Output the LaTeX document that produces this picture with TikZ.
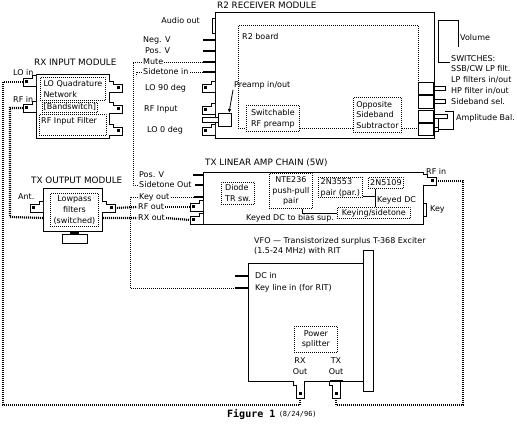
\documentclass[tikz,border=0pt]{standalone}
\usepackage{fontspec}
\setmainfont{DejaVu Sans}
\setmonofont{DejaVu Sans Mono}
\usetikzlibrary{arrows.meta,positioning}

\tikzset{
  module/.style={draw, line width=0.9pt},
  subbox/.style={draw, line width=0.8pt, dash pattern=on 0.8pt off 1.2pt, fill=white, align=left, inner sep=1pt},
  board/.style={draw, line width=0.8pt, dash pattern=on 0.8pt off 1.2pt},
  lbl/.style={inner sep=1pt, text height=6pt, text depth=1.5pt},
  titlelbl/.style={lbl, font=\fontsize{8.8}{10.8}\selectfont},
  pinline/.style={line width=2.2pt},
  ctlline/.style={line width=0.8pt, dash pattern=on 0.8pt off 1.2pt},
  rfline/.style={line width=2.2pt, dash pattern=on 1pt off 1pt},
  jackL/.pic={
    \draw[line width=0.8pt, fill=white] (0,-6) -- (-4,-6) -- (-4,-3) -- (-13,-3) -- (-13,5) -- (0,5);
    \fill (-11,-1) rectangle (-8,2);
    \coordinate (-tip) at (-13,1);
  },
  jackR/.pic={
    \draw[line width=0.8pt, fill=white] (0,-6) -- (4,-6) -- (4,-3) -- (13,-3) -- (13,5) -- (0,5);
    \fill (8,-1) rectangle (11,2);
    \coordinate (-tip) at (13,1);
  },
  jackD/.pic={
    \draw[line width=0.8pt, fill=white] (-7,0) -- (-7,4) -- (-4,4) -- (-4,17) -- (4,17) -- (4,0);
    \fill (-1,11) rectangle (2,14);
    \coordinate (-tip) at (0,17);
  },
}

\begin{document}
\begin{tikzpicture}[x=1pt, y=-1pt, every node/.style={font=\fontsize{8}{10.8}\selectfont, inner sep=1pt}]
  \useasboundingbox[fill=white] (0,0) rectangle (517,433);

  % R2 receiver module
  \node[module, anchor=north west, minimum width=219, minimum height=126] (r2) at (215,12) {};
  \node[titlelbl, anchor=west] (r2title) at (216,6) {R2 RECEIVER MODULE};
  \node[board, anchor=north west, minimum width=180, minimum height=103] (r2board) at (238,25) {};
  \node[lbl, anchor=west] (r2lbl) at (241,37) {R2 board};
  \node[subbox, anchor=north west, minimum width=53, minimum height=26] (swpre) at (246,105) {Switchable\\RF preamp};
  \node[subbox, anchor=north west, minimum width=48, minimum height=35] (oss) at (353,97) {Opposite\\Sideband\\Subtractor};
  \node[module, anchor=north west, minimum width=13, minimum height=13, inner sep=0pt, fill=white] (prebox) at (218,113) {};
  \draw[module, fill=white] (prebox.west) ++(0,-2.5) rectangle ++(-16,5);
  \node[lbl, anchor=west] (prelbl) at (233,85) {Preamp in/out};
  \draw[line width=0.8pt, -{Latex[length=4pt, width=3.5pt]}] (prelbl.south west) -- ([xshift=4pt]prebox.north);
  \node[module, anchor=north west, minimum width=3, minimum height=15, inner sep=0pt] (audio) at (212,18) {};
  \node[lbl, anchor=east] (audiol) at (201,21) {Audio out};
  \pic (j90) at (215,87) {jackL};
  \pic (jrfi) at (215,109) {jackL};
  \pic (j0) at (215,130) {jackL};

  % controls on the right of R2
  \draw[module] (458,47) -- (458,20) -- (438,20) -- (438,62) -- (450,62);
  \node[lbl, anchor=west] (voll) at (459,38) {Volume};
  \node[module, anchor=north west, minimum width=15, minimum height=12, inner sep=0pt, fill=white] (sw1) at (418,82) {};
  \node[module, anchor=north west, minimum width=15, minimum height=13, inner sep=0pt, fill=white] (sw2) at (418,95) {};
  \node[module, anchor=north west, minimum width=15, minimum height=12, inner sep=0pt, fill=white] (sw3) at (418,110) {};
  \node[module, anchor=north west, minimum width=15, minimum height=12, inner sep=0pt, fill=white] (sw4) at (418,123) {};
  \draw[module] (sw1.east) ++(0,-2) rectangle ++(12,4);
  \draw[module] (sw2.east) ++(0,-2) rectangle ++(12,4);
  \draw[module] (sw3.east) ++(0,-2) rectangle ++(14,4);
  \draw[module] (sw4.east) ++(0,-2) rectangle ++(5,4);
  \draw[module] (445,111) -- (453,111) -- (453,129) -- (438,129) -- (438,119);
  \node[anchor=north west, align=left] (swlist) at (450,54) {SWITCHES:\\SSB/CW LP filt.\\LP filters in/out\\HP filter in/out\\Sideband sel.};
  \node[lbl, anchor=west] (ampbal) at (455,118) {Amplitude Bal.};

  % RX input module
  \node[module, anchor=north west, minimum width=73, minimum height=64] (rxin) at (36,74) {};
  \node[titlelbl, anchor=west] (rxintitle) at (33,63) {RX INPUT MODULE};
  \node[subbox, anchor=north west, minimum width=65, minimum height=23] (loq) at (40,77) {LO Quadrature\\Network};
  \node[subbox, anchor=north west, minimum width=55, minimum height=10, inner sep=0pt] (bsw) at (42,102) {[Bandswitch]};
  \node[subbox, anchor=north west, minimum width=67, minimum height=21] (rff) at (39,114) {};
  \node[lbl, anchor=west] (rffl) at (40,121) {RF Input Filter};
  \node[lbl, anchor=west] (loinl) at (12,73) {LO in};
  \node[lbl, anchor=west] (rfinl) at (12,100) {RF in};
  \pic (jlo) at (36,81) {jackL};
  \pic (jrf) at (36,107) {jackL};
  \pic (jq1) at (109,87) {jackR};
  \pic (jq2) at (109,108) {jackR};
  \pic (jq3) at (109,130) {jackR};

  % TX linear amp chain
  \node[module, anchor=north west, minimum width=220, minimum height=52] (txa) at (203,172) {};
  \node[titlelbl, anchor=west] (txatitle) at (204,163) {TX LINEAR AMP CHAIN (5W)};
  \node[subbox, anchor=north west, minimum width=33, minimum height=22] (diode) at (221,182) {Diode\\TR sw.};
  \node[subbox, anchor=north west, minimum width=43, minimum height=35, align=center] (nte) at (269,173) {NTE236\\push-pull\\pair};
  \node[subbox, anchor=north west, minimum width=44, minimum height=20] (q3553) at (318,177) {2N3553\\pair (par.)};
  \node[subbox, anchor=north west, minimum width=35, minimum height=11, inner sep=0pt] (q5109) at (368,177) {2N5109};
  \node[subbox, anchor=north west, minimum width=73, minimum height=11, inner sep=0pt, align=center] (keying) at (337,207) {Keying/sidetone};
  \node[lbl, anchor=west] (keydc) at (376,200) {Keyed DC};
  \node[lbl, anchor=west] (biasl) at (245,218) {Keyed DC to bias sup.};
  \draw[line width=0.8pt] ([xshift=-10pt]nte.south east) |- (keying.west);
  \draw[line width=0.8pt] ([xshift=7pt]q5109.south west) coordinate (kd) -- (kd |- keying.north);
  \draw[line width=0.8pt] ([yshift=1.5pt]q3553.south east) -- ([yshift=1.5pt]q3553.south east -| kd);
  \pic (jrfin) at (423,180) {jackR};
  \node[lbl, anchor=west] (rfintx) at (425,172) {RF in};
  \draw[module] (423,203) -- (426,203) -- (426,216) -- (423,216);
  \node[lbl, anchor=west] (keyl) at (429,209) {Key};
  \pic (jrfo) at (203,206) {jackL};
  \pic (jrxo) at (203,219) {jackL};

  % TX output module
  \node[module, anchor=north west, minimum width=59, minimum height=43] (txo) at (43,188) {};
  \node[titlelbl, anchor=west] (txotitle) at (30,181) {TX OUTPUT MODULE};
  \node[subbox, anchor=north west, minimum width=48, minimum height=33, align=center] (lpf) at (50,193) {Lowpass\\filters\\(switched)};
  \node[lbl, anchor=west] (antl) at (17,197) {Ant.};
  \pic (jant) at (43,207) {jackL};
  \pic (jtxo) at (102,207) {jackR};
  \draw[pinline] (70,232.5) -- (79,232.5);
  \draw[module] (62,234) rectangle (87,243);

  % VFO
  \node[module, anchor=north west, minimum width=115, minimum height=118] (vfo) at (248,263) {};
  \node[module, anchor=north west, minimum width=10, minimum height=141] (vfopanel) at (363,250) {};
  \node[anchor=north west, align=left, inner sep=0pt, font=\fontsize{8}{10.5}\selectfont] (vfotitle) at (254,237) {VFO — Transistorized surplus T-368 Exciter\\(1.5-24 MHz) with RIT};
  \node[lbl, anchor=west] (dcinl) at (254,276) {DC in};
  \node[lbl, anchor=west] (klinl) at (254,288) {Key line in (for RIT)};
  \draw[pinline] (vfo.west |- dcinl) -- ++(-13,0);
  \draw[pinline] (vfo.west |- klinl) -- ++(-13,0) coordinate (klinp);
  \node[subbox, anchor=north west, minimum width=43, minimum height=26, align=center] (split) at (294,326) {Power\\splitter};
  \node[align=center] (rxvl) at (300,366) {RX\\Out};
  \node[align=center] (txvl) at (336,366) {TX\\Out};
  \pic (jrxv) at (300,381) {jackD};
  \pic (jtxv) at (336,381) {jackD};
  \draw[pinline] (330,381) -- (343,381);

  % left side pins of R2
  \node[lbl, anchor=west] (negvl) at (142,40) {Neg. V};
  \node[lbl, anchor=west] (posvl) at (144,51) {Pos. V};
  \node[lbl, anchor=west] (mutel) at (142,62) {Mute};
  \node[lbl, anchor=west] (sidinl) at (142,72) {Sidetone in};
  \node[lbl, anchor=west] (lo90l) at (144,88) {LO 90 deg};
  \node[lbl, anchor=west] (rfipl) at (143,109) {RF Input};
  \node[lbl, anchor=west] (lo0l) at (146,130) {LO 0 deg};
  \draw[pinline] (r2.west |- negvl) -- ++(-12,0);
  \draw[pinline] (r2.west |- posvl) -- ++(-12,0);
  \draw[pinline] (r2.west |- mutel) -- ++(-12,0) coordinate (mutep);
  \draw[pinline] (r2.west |- sidinl) -- ++(-12,0) coordinate (sidinp);

  % left side pins of TX amp
  \node[lbl, anchor=west] (posvtx) at (138,175) {Pos. V};
  \node[lbl, anchor=west] (sidoutl) at (138,185) {Sidetone Out};
  \node[lbl, anchor=west] (keyoutl) at (138,197) {Key out};
  \node[lbl, anchor=west] (rfoutl) at (137,207) {RF out};
  \node[lbl, anchor=west] (rxoutl) at (137,218) {RX out};
  \draw[pinline] (txa.west |- posvtx) -- ++(-10,0);
  \draw[pinline] (txa.west |- sidoutl) -- ++(-8,0);
  \draw[pinline] (txa.west |- keyoutl) -- ++(-9,0) coordinate (keyoutp);

  % control wiring
  \draw[ctlline] (mutep) -- (mutel.east);
  \draw[ctlline] (sidinp) -- (sidinl.east);
  \draw[ctlline] (mutel.west) -| (133,185) -- (sidoutl.west);
  \draw[ctlline] (sidinl.west) -| (136,76);
  \draw[ctlline] (keyoutl.east) -- (keyoutp);
  \draw[ctlline] (keyoutl.west) -| (130,288) -- (klinp);

  % RF wiring
  \draw[rfline] (jlo-tip) -| (3,405) -| (jrxv-tip);
  \draw[rfline] (jrf-tip) -| (10,217) -- ([yshift=-8pt]txo.west);
  \draw[rfline] (jtxo-tip) -- (rfoutl.west);
  \draw[rfline] (rfoutl.east) -- (jrfo-tip);
  \draw[rfline] ([yshift=-8pt]txo.east) -- (rxoutl.west);
  \draw[rfline] (rxoutl.east) -- (jrxo-tip);
  \draw[rfline] (jrfin-tip) -| (463,405) -| (jtxv-tip);

  % caption
  \node[anchor=west, font=\ttfamily\bfseries\fontsize{10}{12}\selectfont] (fig) at (226,414) {Figure 1};
  \node[anchor=west, font=\ttfamily\fontsize{7}{9}\selectfont] (figdate) at ([xshift=1pt]fig.east) {(8/24/96)};
\end{tikzpicture}
\end{document}
